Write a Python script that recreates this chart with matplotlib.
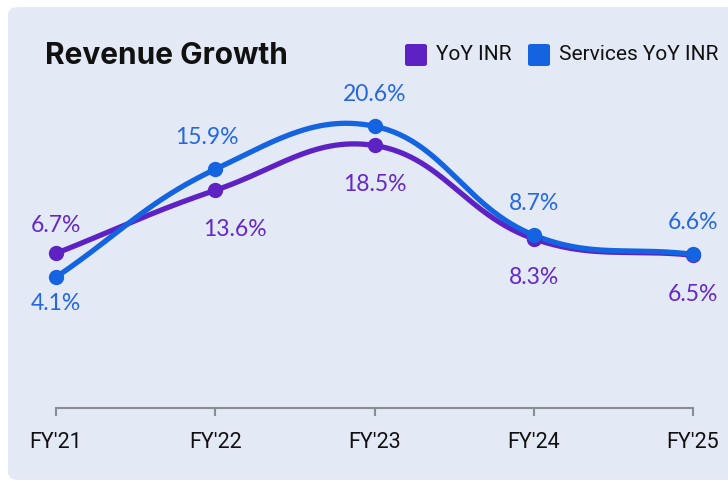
import numpy as np
import matplotlib
matplotlib.use("Agg")
import matplotlib.pyplot as plt
from matplotlib.patches import FancyBboxPatch

years = ["FY'21", "FY'22", "FY'23", "FY'24", "FY'25"]
yoy_inr = [6.7, 13.6, 18.5, 8.3, 6.5]
services_yoy_inr = [4.1, 15.9, 20.6, 8.7, 6.6]
yoy_pos = ["above", "below", "below", "below", "below"]
services_pos = ["below", "above", "above", "above", "above"]

PURPLE = "#5e22c4"
BLUE = "#1463e0"
BG = "#e3e9f5"


def chart_spline(ax, xs, ys, tension=0.4, n=60):
    # chart.js style bezier smoothing, distances measured in pixel space
    xs = np.asarray(xs, float)
    ys = np.asarray(ys, float)
    t = ax.transData
    p0 = t.transform((0, 0))
    sx = t.transform((1, 0))[0] - p0[0]
    sy = t.transform((0, 1))[1] - p0[1]
    m = len(xs)
    cp_prev = np.zeros((m, 2))
    cp_next = np.zeros((m, 2))
    for i in range(m):
        a = max(i - 1, 0)
        c = min(i + 1, m - 1)
        d01 = np.hypot((xs[i] - xs[a]) * sx, (ys[i] - ys[a]) * sy)
        d12 = np.hypot((xs[c] - xs[i]) * sx, (ys[c] - ys[i]) * sy)
        tot = d01 + d12
        s01 = d01 / tot if tot else 0
        s12 = d12 / tot if tot else 0
        dx = xs[c] - xs[a]
        dy = ys[c] - ys[a]
        cp_prev[i] = (xs[i] - tension * s01 * dx, ys[i] - tension * s01 * dy)
        cp_next[i] = (xs[i] + tension * s12 * dx, ys[i] + tension * s12 * dy)
    tt = np.linspace(0, 1, n)[:, None]
    out = []
    for i in range(m - 1):
        P0 = np.array([xs[i], ys[i]])
        P3 = np.array([xs[i + 1], ys[i + 1]])
        P1 = cp_next[i]
        P2 = cp_prev[i + 1]
        seg = ((1 - tt) ** 3) * P0 + 3 * ((1 - tt) ** 2) * tt * P1 \
            + 3 * (1 - tt) * tt ** 2 * P2 + tt ** 3 * P3
        out.append(seg if i == 0 else seg[1:])
    out = np.vstack(out)
    return out[:, 0], out[:, 1]


fig = plt.figure(figsize=(7.28, 4.83), dpi=100)
fig.patch.set_facecolor("white")
panel = FancyBboxPatch((8 / 728, 3 / 483), 740 / 728, 473 / 483,
                       boxstyle="round,pad=0,rounding_size=0.015",
                       transform=fig.transFigure, facecolor=BG,
                       edgecolor="none", zorder=-5)
fig.patches.append(panel)

ax = fig.add_axes([56 / 728, 1 - 408 / 483, 637 / 728, 322 / 483])
ax.set_facecolor("none")
x = np.arange(len(years))
ax.set_xlim(0, len(years) - 1)
ax.set_ylim(-10.2, 25)

for vals, col in [(yoy_inr, PURPLE), (services_yoy_inr, BLUE)]:
    sx, sy = chart_spline(ax, x, vals)
    ax.plot(sx, sy, color=col, lw=3.8, solid_capstyle="round", clip_on=False, zorder=3)
    ax.plot(x, vals, "o", color=col, ms=10, clip_on=False, zorder=4)

lab_font = dict(fontsize=16.5, family=["Lato", "DejaVu Sans"])
x_shift = {("p", 1): 14, ("b", 1): -6}
for key, vals, pos, col, up, down in [("p", yoy_inr, yoy_pos, "#6428c8", 20, 28),
                                      ("b", services_yoy_inr, services_pos, "#2467e0", 23, 19)]:
    for i, (v, p) in enumerate(zip(vals, pos)):
        off = up if p == "above" else -down
        ax.annotate(f"{v}%", (x[i], v), xytext=(x_shift.get((key, i), 0), off),
                    textcoords="offset points", ha="center", va="center",
                    color=col, annotation_clip=False, **lab_font)

for s in ["top", "right", "left"]:
    ax.spines[s].set_visible(False)
ax.spines["bottom"].set_color("#8a8d93")
ax.spines["bottom"].set_linewidth(1.5)
ax.set_yticks([])
ax.set_xticks(x)
ax.set_xticklabels(years, fontsize=15.5, family="Roboto", color="#111111")
ax.tick_params(axis="x", length=6, width=1.5, color="#8a8d93", pad=11)

fig.text(45 / 728, 1 - 56 / 483, "Revenue Growth", fontsize=21.5, fontweight="bold",
         family=["Inter", "DejaVu Sans"], color="#111111", va="center", ha="left")

# legend
for lx, col, txt in [(405, PURPLE, "YoY INR"), (528, BLUE, "Services YoY INR")]:
    sq = FancyBboxPatch((lx / 728, 1 - 66 / 483), 22 / 728, 22 / 483,
                        boxstyle="round,pad=0,rounding_size=0.004", transform=fig.transFigure,
                        facecolor=col, edgecolor="none")
    fig.patches.append(sq)
    fig.text((lx + 31) / 728, 1 - 55 / 483, txt, fontsize=15, family="Roboto",
             color="#111111", va="center", ha="left")

fig.savefig("out.png", dpi=100)
